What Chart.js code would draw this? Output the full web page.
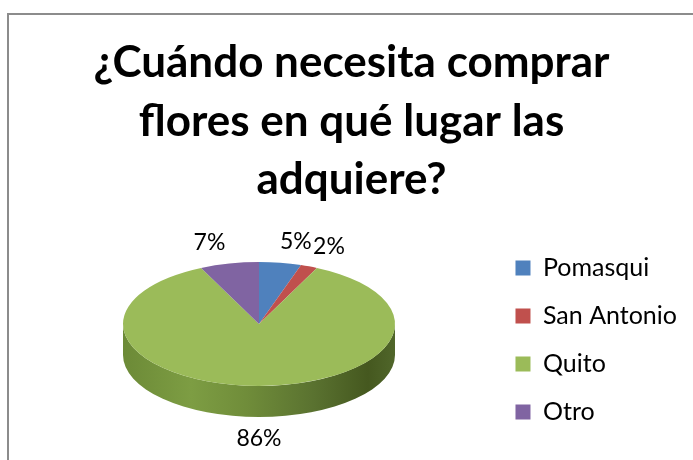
<!DOCTYPE html>
<html><head><meta charset="utf-8">
<script src="https://cdn.jsdelivr.net/npm/chart.js@4"></script>
<style>html,body{margin:0;padding:0;background:#fff;} #wrap{position:relative;width:693px;height:460px;}</style>
</head><body><div id="wrap"><canvas id="c"></canvas></div>
<script>
const categories = ['Pomasqui', 'San Antonio', 'Quito', 'Otro'];
const percentages = [5, 2, 86, 7];
const sliceColors = ['#4F81BD', '#C0504D', '#9BBB59', '#8064A2'];
const titleLines = ['¿Cuándo necesita comprar', 'flores en qué lugar las', 'adquiere?'];

const PIE = {cx: 259, cy: 324, rx: 136, ry: 62, depth: 31};
const FONT = 'Lato, sans-serif';

const pie3d = {
  id: 'pie3d',
  beforeDraw(chart) {
    const ctx = chart.ctx;
    ctx.save();
    ctx.fillStyle = '#fff';
    ctx.fillRect(0, 0, chart.width, chart.height);
    ctx.strokeStyle = '#8c8c8c';
    ctx.lineWidth = 2;
    ctx.strokeRect(8, 14, 1000, 1000);
    ctx.restore();
  },
  beforeDatasetsDraw(chart) {
    const ctx = chart.ctx;
    const meta = chart.getDatasetMeta(0);
    const {cx, cy, rx, ry, depth} = PIE;
    ctx.save();
    const grad = ctx.createLinearGradient(cx - rx, 0, cx + rx, 0);
    grad.addColorStop(0, '#6c8a37');
    grad.addColorStop(0.25, '#7d9d43');
    grad.addColorStop(0.45, '#708d3a');
    grad.addColorStop(0.7, '#5a7230');
    grad.addColorStop(0.9, '#45581f');
    grad.addColorStop(1, '#50662a');
    meta.data.forEach((arc, i) => {
      const s = arc.startAngle, e = arc.endAngle;
      for (let k = -1; k <= 1; k++) {
        const lo = Math.max(s, 2 * Math.PI * k), hi = Math.min(e, 2 * Math.PI * k + Math.PI);
        if (lo < hi) {
          ctx.beginPath();
          ctx.ellipse(cx, cy, rx, ry, 0, lo, hi, false);
          ctx.ellipse(cx, cy + depth, rx, ry, 0, hi, lo, true);
          ctx.closePath();
          ctx.fillStyle = i === 2 ? grad : sliceColors[i];
          ctx.fill();
        }
      }
    });
    ctx.restore();
    const a0 = meta.data[0];
    ctx.save();
    ctx.translate(cx, cy);
    ctx.scale(1, ry / a0.outerRadius);
    ctx.translate(-a0.x, -a0.y);
  },
  afterDatasetsDraw(chart) {
    const ctx = chart.ctx;
    ctx.restore();
    const meta = chart.getDatasetMeta(0);
    const {cx, cy, rx, ry, depth} = PIE;
    ctx.save();
    ctx.font = '23px ' + FONT;
    ctx.fillStyle = '#000';
    ctx.textAlign = 'center';
    ctx.textBaseline = 'middle';
    meta.data.forEach((arc, i) => {
      const mid = (arc.startAngle + arc.endAngle) / 2;
      const txt = chart.data.datasets[0].data[i] + '%';
      const w = ctx.measureText(txt).width, h = 23;
      const c = Math.cos(mid), sn = Math.sin(mid);
      const ex = cx + rx * c;
      const ey = cy + ry * sn + (sn > 0 ? depth * sn : 0);
      const tx = ex + Math.max(-1, Math.min(1, c * 5)) * (w / 2 + 4);
      const ty = ey + sn * (h / 2 + 10);
      ctx.fillText(txt, tx, ty);
    });
    ctx.restore();
  }
};

new Chart(document.getElementById('c'), {
  type: 'pie',
  data: {
    labels: categories,
    datasets: [{
      data: percentages,
      backgroundColor: sliceColors,
      borderWidth: 0,
      radius: 136,
      clip: 1000
    }]
  },
  options: {
    responsive: true,
    maintainAspectRatio: false,
    animation: false,
    events: [],
    layout: {padding: {left: 16, right: 6, top: 0, bottom: -220}},
    plugins: {
      tooltip: {enabled: false},
      title: {
        display: true,
        text: titleLines,
        color: '#000',
        font: {family: FONT, size: 44, weight: 'bold', lineHeight: 58.5 / 44},
        padding: {top: 34, bottom: 10}
      },
      legend: {
        display: true,
        position: 'right',
        align: 'center',
        labels: {
          color: '#000',
          font: {family: FONT, size: 25},
          boxWidth: 15,
          boxHeight: 15,
          padding: 23
        }
      }
    }
  },
  plugins: [pie3d]
});
</script>
</body></html>
